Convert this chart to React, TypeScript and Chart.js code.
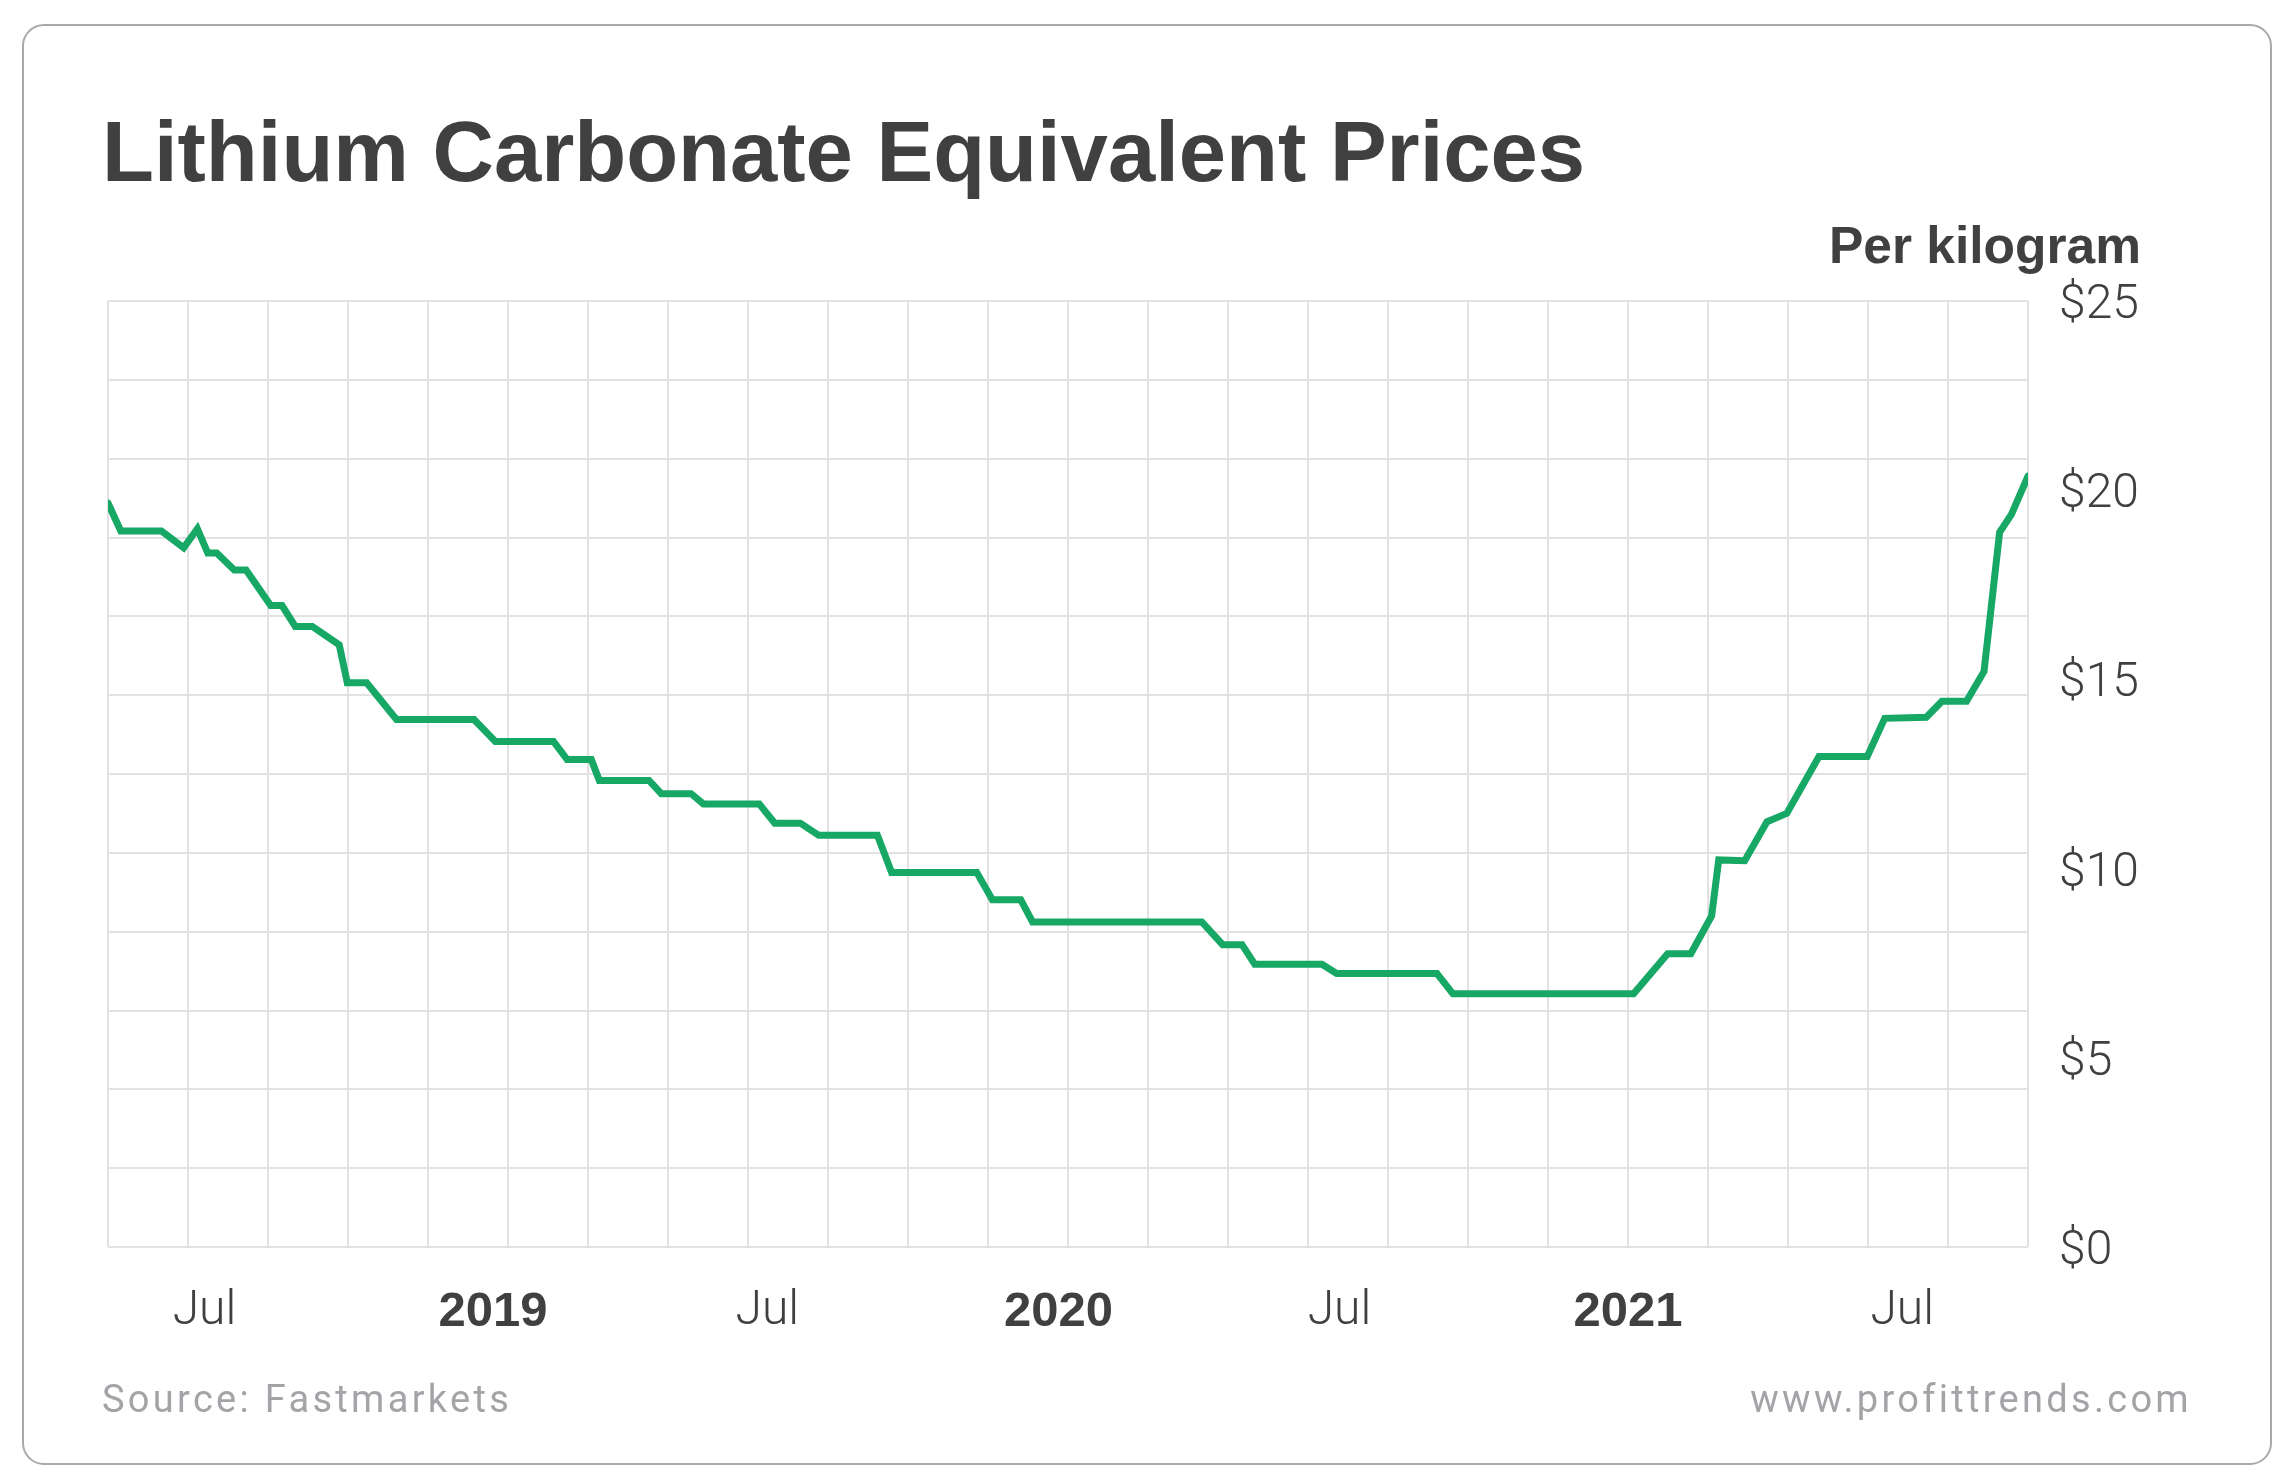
import React, { useEffect, useRef } from 'react';
import { Chart, registerables } from 'chart.js';

Chart.register(...registerables);

// Months counted from January 2018 (0 = Jan 2018, 12 = Jan 2019 ...)
const months = [
  3.86, 4.13, 4.99, 5.46, 5.75, 5.97, 6.16, 6.53, 6.78, 7.3, 7.54, 7.82, 8.18, 8.75, 8.92, 9.33,
  9.96, 11.6, 12.05, 13.28, 13.57, 14.08, 14.25, 15.3, 15.56, 16.19, 16.45, 17.63, 17.96, 18.5,
  18.89, 20.13, 20.43, 22.23, 22.56, 23.16, 23.41, 26.99, 27.43, 27.84, 28.11, 29.53, 29.84,
  31.96, 32.3, 36.12, 36.84, 37.33, 37.77, 37.92, 38.47, 38.94, 39.36, 40.04, 41.06, 41.43,
  42.31, 42.64, 43.16, 43.53, 43.86, 44.11, 44.46,
];

// Lithium carbonate equivalent price, USD per kilogram
const prices = [
  19.66, 18.92, 18.92, 18.48, 18.98, 18.34, 18.34, 17.89, 17.89, 16.95, 16.95, 16.4, 16.4, 15.91,
  14.91, 14.91, 13.94, 13.94, 13.36, 13.36, 12.88, 12.88, 12.33, 12.33, 11.98, 11.98, 11.71,
  11.71, 11.2, 11.2, 10.88, 10.88, 9.9, 9.9, 9.18, 9.18, 8.59, 8.59, 7.99, 7.99, 7.47, 7.47,
  7.23, 7.23, 6.69, 6.69, 7.75, 7.75, 8.75, 10.23, 10.21, 11.24, 11.46, 12.96, 12.96, 13.97,
  14.0, 14.42, 14.42, 15.21, 18.89, 19.36, 20.37,
];

const xStart = 3.86;
const xEnd = 44.46;

// Where each date label sits on the month axis
const dateTicks = [5.9, 12, 17.8, 23.96, 29.9, 36, 41.8];
const dateTickLabels = ['Jul', '2019', 'Jul', '2020', 'Jul', '2021', 'Jul'];
const yearLabels = ['2019', '2020', '2021'];

const priceTicks = [0, 5, 10, 15, 20, 25];

const TEXT = '#404040';
const GRID = '#e2e2e2';
const LINE = '#17a866';
const FOOTER = '#a4a4a8';

export default function App() {
  const canvasRef = useRef<HTMLCanvasElement | null>(null);

  useEffect(() => {
    const canvas = canvasRef.current;
    if (!canvas) return;

    const gridLines = { color: GRID, lineWidth: 2, drawTicks: false };

    const chart = new Chart(canvas, {
      type: 'line',
      data: {
        datasets: [
          {
            data: months.map((m, i) => ({ x: m, y: prices[i] })),
            borderColor: LINE,
            borderWidth: 7,
            pointRadius: 0,
            tension: 0,
            fill: false,
            borderCapStyle: 'round',
            borderJoinStyle: 'miter',
          },
        ],
      },
      options: {
        responsive: false,
        animation: false,
        events: [],
        layout: { padding: { left: 108, top: 301, right: 0, bottom: 137 } },
        plugins: {
          legend: { display: false },
          tooltip: { enabled: false },
          title: { display: false },
        },
        scales: {
          x: {
            type: 'linear',
            position: 'bottom',
            min: xStart,
            max: xEnd,
            grid: { display: false },
            border: { display: false },
            afterBuildTicks: (scale: any) => {
              scale.ticks = dateTicks.map((v) => ({ value: v }));
            },
            afterFit: (scale: any) => {
              scale.height = 100;
            },
            ticks: {
              autoSkip: false,
              maxRotation: 0,
              minRotation: 0,
              padding: 28,
              color: TEXT,
              callback: (_v: any, i: number) => dateTickLabels[i],
              font: (ctx: any) =>
                yearLabels.includes(dateTickLabels[ctx.index])
                  ? { family: '"Liberation Sans", Arial, sans-serif', size: 49, weight: 'bold' }
                  : { family: 'Roboto, sans-serif', size: 48, weight: '300' },
            },
          },
          y: {
            type: 'linear',
            position: 'right',
            min: 0,
            max: 25,
            grid: { display: false },
            border: { display: false },
            afterBuildTicks: (scale: any) => {
              scale.ticks = priceTicks.map((v) => ({ value: v }));
            },
            afterFit: (scale: any) => {
              scale.width = 265;
            },
            ticks: {
              padding: 23,
              labelOffset: 5,
              color: TEXT,
              font: { family: 'Roboto, sans-serif', size: 48, weight: '300' },
              callback: (v: any) => '$' + v,
            },
          },
          xGrid: {
            type: 'linear',
            position: 'top',
            min: 0,
            max: 24,
            ticks: { display: false, stepSize: 1 },
            grid: gridLines,
            border: { display: false },
            afterFit: (scale: any) => {
              scale.height = 0;
            },
          },
          yGrid: {
            type: 'linear',
            position: 'left',
            min: 0,
            max: 12,
            ticks: { display: false, stepSize: 1 },
            grid: gridLines,
            border: { display: false },
            afterFit: (scale: any) => {
              scale.width = 0;
            },
          },
        },
      } as any,
    });

    return () => chart.destroy();
  }, []);

  return (
    <div
      style={{
        position: 'absolute',
        left: 0,
        top: 0,
        width: 2293,
        height: 1484,
        overflow: 'hidden',
        background: '#ffffff',
      }}
    >
      <div
        style={{
          position: 'absolute',
          left: 22,
          top: 24,
          width: 2250,
          height: 1441,
          boxSizing: 'border-box',
          border: '2px solid #a9a9a9',
          borderRadius: 22,
        }}
      />
      <div
        style={{
          position: 'absolute',
          left: 102,
          top: 109,
          fontFamily: '"Liberation Sans", Arial, sans-serif',
          fontWeight: 700,
          fontSize: 85,
          lineHeight: 1,
          color: TEXT,
          whiteSpace: 'nowrap',
        }}
      >
        Lithium Carbonate Equivalent Prices
      </div>
      <div
        style={{
          position: 'absolute',
          right: 152,
          top: 220,
          fontFamily: '"Liberation Sans", Arial, sans-serif',
          fontWeight: 700,
          fontSize: 51.5,
          lineHeight: 1,
          color: TEXT,
          whiteSpace: 'nowrap',
          textAlign: 'right',
        }}
      >
        Per kilogram
      </div>
      <canvas
        ref={canvasRef}
        width={2293}
        height={1484}
        style={{ position: 'absolute', left: 0, top: 0, width: 2293, height: 1484 }}
      />
      <div
        style={{
          position: 'absolute',
          left: 102,
          top: 1380,
          fontFamily: 'Roboto, sans-serif',
          fontSize: 38,
          lineHeight: 1,
          letterSpacing: 3.3,
          color: FOOTER,
          whiteSpace: 'nowrap',
        }}
      >
        Source: Fastmarkets
      </div>
      <div
        style={{
          position: 'absolute',
          right: 101,
          top: 1380,
          fontFamily: 'Roboto, sans-serif',
          fontSize: 38,
          lineHeight: 1,
          letterSpacing: 3.3,
          color: FOOTER,
          whiteSpace: 'nowrap',
          textAlign: 'right',
        }}
      >
        www.profittrends.com
      </div>
    </div>
  );
}
